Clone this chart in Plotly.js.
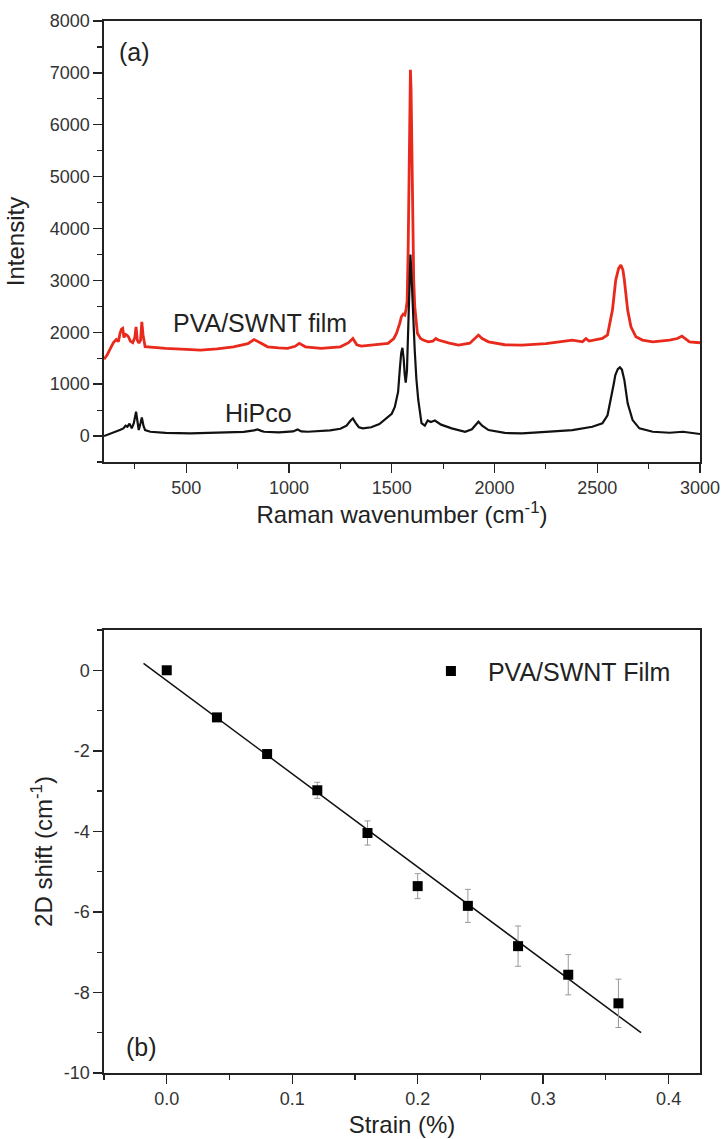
<!DOCTYPE html>
<html>
<head>
<meta charset="utf-8">
<script src="https://cdn.plot.ly/plotly-3.0.1.min.js"></script>
<style>
html,body{margin:0;padding:0;background:#fff;}
#chart{width:722px;height:1139px;}
</style>
</head>
<body>
<div id="chart"></div>
<script>
// ---- Panel (a): Raman spectra ----
const hipcoWavenumber = [100,120,140,162,180,194,205,214,224,235,
  245,256,262,269,278,284,292,300,325,400,
  520,650,780,830,847,865,879,950,1020,1042,
  1060,1091,1200,1250,1280,1300,1311,1325,1340,1360,
  1400,1440,1470,1500,1515,1525,1531,1539,1546,1552,
  1558,1563,1568,1574,1579,1584,1588,1591,1595,1600,
  1606,1612,1620,1629,1645,1661,1675,1690,1710,1740,
  1792,1857,1890,1910,1922,1940,1971,2050,2134,2250,
  2379,2476,2525,2550,2566,2580,2588,2600,2610,2620,
  2632,2648,2672,2705,2770,2852,2917,3000];
const hipcoIntensity = [0,30,60,83,120,148,200,180,240,148,
  250,469,330,116,250,360,200,116,83,60,
  51,60,80,110,128,100,83,70,90,128,
  90,83,110,140,200,300,340,250,170,148,
  170,230,330,430,560,720,850,1270,1600,1700,
  1500,1200,1030,1250,1900,2800,3400,3500,3200,2700,
  2200,1650,1100,700,250,200,300,270,300,220,
  148,83,130,230,276,200,116,60,51,80,
  116,180,244,400,694,1000,1175,1290,1324,1280,
  1079,630,308,148,83,64,83,39];

const filmWavenumber = [100,115,130,146,160,170,178,185,191,197,
  204,210,219,228,240,250,256,262,270,278,
  284,290,300,330,400,500,569,650,730,800,
  830,860,896,950,993,1030,1050,1080,1156,1250,
  1290,1311,1330,1352,1420,1482,1510,1523,1539,1547,
  1556,1564,1570,1575,1580,1584,1588,1591,1594,1598,
  1602,1607,1612,1618,1625,1640,1653,1678,1700,1715,
  1727,1780,1825,1880,1905,1922,1940,1971,2050,2134,
  2250,2379,2428,2445,2460,2525,2550,2574,2590,2604,
  2615,2625,2632,2648,2664,2688,2720,2770,2852,2890,
  2912,2930,2949,3000];
const filmIntensity = [1480,1560,1680,1800,1860,1820,1980,2060,2075,1900,
  1960,1950,1913,1830,1800,1900,2106,1850,1790,1850,
  2202,1950,1721,1710,1690,1670,1657,1680,1720,1780,
  1860,1800,1721,1700,1690,1730,1786,1720,1690,1720,
  1800,1882,1760,1734,1760,1786,1880,1978,2171,2300,
  2350,2331,2450,2600,3600,5200,6600,7060,6700,5400,
  4000,3000,2500,2200,1980,1880,1850,1817,1830,1880,
  1850,1790,1753,1790,1880,1946,1880,1817,1760,1753,
  1780,1850,1817,1880,1830,1882,1950,2428,3006,3231,
  3295,3200,3006,2428,2106,1913,1850,1817,1850,1880,
  1927,1880,1817,1798];

const spectrumLabels = ["PVA/SWNT film", "HiPco"];

// ---- Panel (b): 2D band shift vs strain ----
const strain = [0, 0.04, 0.08, 0.12, 0.16, 0.20, 0.24, 0.28, 0.32, 0.36];
const shift2D = [0, -1.17, -2.08, -2.98, -4.04, -5.36, -5.85, -6.85, -7.56, -8.27];
const shiftErr = [0, 0.08, 0.08, 0.2, 0.3, 0.31, 0.41, 0.5, 0.5, 0.6];
const fitStrain = [-0.0185, 0.378];
const fitShift = [0.17, -9.0];
const shiftTickVals = [0, -2, -4, -6, -8, -10];
const shiftTickText = ["0", "-2", "-4", "-6", "-8", "-10"];

const FONT = "Liberation Sans, Arial, Helvetica, sans-serif";
const AX = "#222";

const traces = [
  {x: filmWavenumber, y: filmIntensity, type: "scatter", mode: "lines",
   line: {color: "#e8291c", width: 2.8}, xaxis: "x", yaxis: "y", showlegend: false},
  {x: hipcoWavenumber, y: hipcoIntensity, type: "scatter", mode: "lines",
   line: {color: "#111", width: 2.2}, xaxis: "x", yaxis: "y", showlegend: false},
  {x: fitStrain, y: fitShift, type: "scatter", mode: "lines",
   line: {color: "#111", width: 1.5}, xaxis: "x2", yaxis: "y2", showlegend: false},
  {x: strain, y: shift2D, type: "scatter", mode: "markers", name: "PVA/SWNT Film",
   marker: {symbol: "square", size: 10, color: "#000"},
   error_y: {type: "data", array: shiftErr, visible: true, color: "#999", thickness: 1, width: 3},
   xaxis: "x2", yaxis: "y2", showlegend: true}
];

function axisBase(extra) {
  return Object.assign({
    showline: true, linecolor: AX, linewidth: 1.6, mirror: true,
    ticks: "outside", ticklen: 9, tickwidth: 1.4, tickcolor: AX,
    showgrid: false, zeroline: false,
    tickfont: {family: FONT, size: 18, color: "#333"}
  }, extra);
}

const layout = {
  width: 722, height: 1139,
  margin: {l: 104, r: 22, t: 21, b: 66},
  paper_bgcolor: "#fff", plot_bgcolor: "#fff",
  font: {family: FONT, color: "#222"},
  xaxis: axisBase({
    anchor: "y", range: [100, 3000], dtick: 500, tick0: 0,
    minor: {dtick: 250, ticks: "outside", ticklen: 5, tickwidth: 1.2, tickcolor: AX},
    title: {text: "Raman wavenumber (cm<sup>-1</sup>)", font: {family: FONT, size: 24, color: "#222"}, standoff: 8}
  }),
  yaxis: axisBase({
    domain: [0.5808, 1], anchor: "x", range: [-500, 8000], dtick: 1000, tick0: 0,
    minor: {dtick: 500, ticks: "outside", ticklen: 5, tickwidth: 1.2, tickcolor: AX},
    title: {text: "Intensity", font: {family: FONT, size: 24, color: "#222"}, standoff: 18}
  }),
  xaxis2: axisBase({
    anchor: "y2", range: [-0.05, 0.425], dtick: 0.1, tick0: 0, tickformat: ".1f",
    minor: {dtick: 0.05, ticks: "outside", ticklen: 5, tickwidth: 1.2, tickcolor: AX},
    title: {text: "Strain (%)", font: {family: FONT, size: 24, color: "#222"}, standoff: 8}
  }),
  yaxis2: axisBase({
    domain: [0, 0.4211], anchor: "x2", range: [-10, 1],
    tickmode: "array", tickvals: shiftTickVals, ticktext: shiftTickText,
    minor: {tickmode: "linear", tick0: 0, dtick: 1, ticks: "outside", ticklen: 5, tickwidth: 1.2, tickcolor: AX},
    title: {text: "2D shift (cm<sup>-1</sup>)", font: {family: FONT, size: 24, color: "#222"}, standoff: 4}
  }),
  showlegend: true,
  legend: {x: 0.52, y: 0.382, xanchor: "left", yanchor: "middle",
    bgcolor: "rgba(0,0,0,0)", borderwidth: 0, itemwidth: 64,
    font: {family: FONT, size: 25, color: "#222"}},
  annotations: [
    {xref: "x domain", yref: "y domain", x: 0.022, y: 0.93, xanchor: "left", yanchor: "middle",
     text: "(a)", showarrow: false, font: {family: FONT, size: 25, color: "#222"}},
    {xref: "x domain", yref: "y domain", x: 0.113, y: 0.315, xanchor: "left", yanchor: "middle",
     text: spectrumLabels[0], showarrow: false, font: {family: FONT, size: 25, color: "#222"}},
    {xref: "x domain", yref: "y domain", x: 0.199, y: 0.111, xanchor: "left", yanchor: "middle",
     text: spectrumLabels[1], showarrow: false, font: {family: FONT, size: 25, color: "#222"}},
    {xref: "x2 domain", yref: "y2 domain", x: 0.033, y: 0.059, xanchor: "left", yanchor: "middle",
     text: "(b)", showarrow: false, font: {family: FONT, size: 25, color: "#222"}}
  ]
};

Plotly.newPlot("chart", traces, layout, {staticPlot: true, displayModeBar: false});
</script>
</body>
</html>
